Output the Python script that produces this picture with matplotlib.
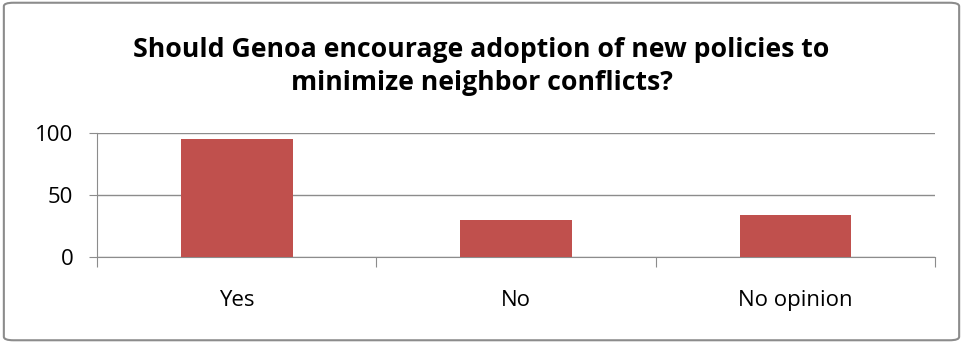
import matplotlib
matplotlib.use("Agg")
import matplotlib.pyplot as plt
from matplotlib.patches import FancyBboxPatch

categories = ["Yes", "No", "No opinion"]
values = [95, 30, 34]
yticks = [0, 50, 100]
title = "Should Genoa encourage adoption of new policies to\nminimize neighbor conflicts?"

plt.rcParams['font.family'] = ['Open Sans', 'DejaVu Sans']

fig = plt.figure(figsize=(9.63, 3.43), dpi=100)
fig.patch.set_facecolor("white")
border = FancyBboxPatch((0.004, 0.008), 0.992, 0.984, boxstyle="round,pad=0,rounding_size=0.01",
                        transform=fig.transFigure, facecolor="none", edgecolor="#8c8c8c", linewidth=1.5)
fig.patches.append(border)

ax = fig.add_axes([0.1007, 0.2516, 0.8703, 0.3615])
x = list(range(len(categories)))
ax.bar(x, values, width=0.4, color="#C0504D", zorder=3)
ax.set_xlim(-0.5, len(categories) - 0.5)
ax.set_ylim(0, 100)
ax.set_yticks(yticks)
ax.yaxis.grid(True, color="#8c8c8c", linewidth=1)
ax.set_axisbelow(True)
for s in ["top", "right"]:
    ax.spines[s].set_visible(False)
for s in ["left", "bottom"]:
    ax.spines[s].set_color("#8c8c8c")
ax.tick_params(axis="y", length=6, color="#8c8c8c", labelsize=16, pad=11, labelcolor="#000000")
ax.set_xticks([-0.5 + i for i in range(len(categories) + 1)])
ax.set_xticklabels([])
ax.tick_params(axis="x", which="major", length=7, color="#8c8c8c")
ax.set_xticks(x, minor=True)
ax.set_xticklabels(categories, minor=True)
ax.tick_params(axis="x", which="minor", length=0, labelsize=16, pad=24)

fig.text(0.5, 0.806, title, ha="center", va="center", fontsize=19.2, fontweight="bold",
         linespacing=1.33)

fig.savefig("out.png", dpi=100)
